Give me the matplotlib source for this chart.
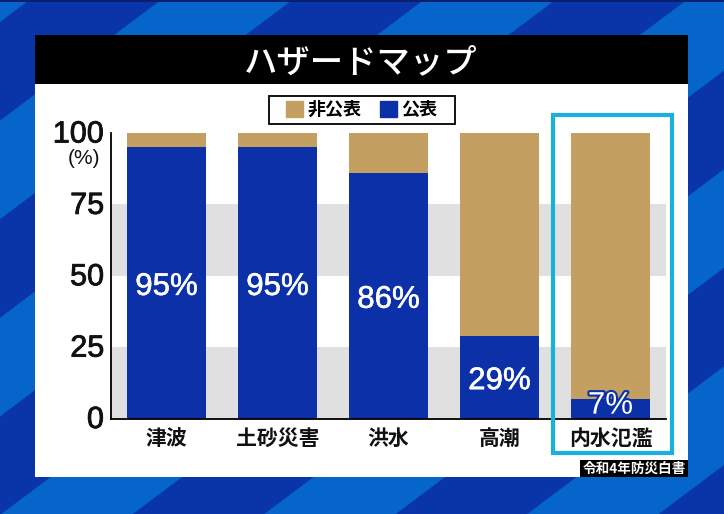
import numpy as np
import matplotlib
matplotlib.use("Agg")
import matplotlib.pyplot as plt
import matplotlib.patheffects as pe
from matplotlib.patches import Patch, Rectangle, Polygon
from matplotlib.transforms import ScaledTranslation

plt.rcParams['font.family'] = ['Noto Sans CJK JP', 'DejaVu Sans']

categories = ["津波", "土砂災害", "洪水", "高潮", "内水氾濫"]
public = [95, 95, 86, 29, 7]
private = [5, 5, 14, 71, 93]
yticks = [0, 25, 50, 75, 100]
gray_bands = [(0, 25), (50, 75)]

BLUE = "#0b30a8"
TAN = "#c49f62"
LIGHT = "#0565cb"
DARK = "#0a35a8"
W, H = 724, 514

fig = plt.figure(figsize=(W / 100, H / 100), dpi=100)

# background layer in pixel coords
bg = fig.add_axes([0, 0, 1, 1], zorder=0)
bg.set_xlim(0, W)
bg.set_ylim(H, 0)
bg.axis("off")
bg.add_patch(Rectangle((0, 0), W, H, color=DARK, lw=0))

# diagonal stripes, y + 0.75x = c
s = 0.75
edges = 22 + 98.6 * np.arange(-1, 12)
for c1, c2 in zip(edges[::2], edges[1::2]):
    bg.add_patch(Polygon([(0, c1), (0, c2), (W, c2 - s * W), (W, c1 - s * W)], color=LIGHT, lw=0))
bg.add_patch(Rectangle((0, 0), W, 2, color="#0a1f70", lw=0))

# panel + header
bg.add_patch(Rectangle((35, 35), 653, 442, color="white", lw=0))
bg.add_patch(Rectangle((35, 35), 653, 49, color="black", lw=0))
bg.text(361, 63, "ハザードマップ", color="white", fontsize=24, fontweight="medium", ha="center", va="center")

# source tag
bg.add_patch(Rectangle((580, 460), 108, 17, color="black", lw=0))
bg.text(634, 468.5, "令和4年防災白書", color="white", fontsize=9.8, fontweight="bold", ha="center", va="center")

# legend frame is wider than the legend's own padding
bg.add_patch(Rectangle((268.5, 95.5), 186, 28, facecolor="white", edgecolor="black", lw=1.3))

# chart
left, right, top, bottom = 111, 666, 133, 418.5
ax = fig.add_axes([left / W, 1 - bottom / H, (right - left) / W, (bottom - top) / H], zorder=1)
ax.patch.set_alpha(0)
x = np.arange(len(categories))

for lo, hi in gray_bands:
    ax.axhspan(lo, hi, color="#e0e0e0", lw=0, zorder=0)

ax.bar(x, public, width=0.72, color=BLUE, zorder=2, label="公表")
ax.bar(x, private, width=0.72, bottom=public, color=TAN, zorder=2, label="非公表")

ax.set_xlim(-0.5, 4.5)
ax.set_ylim(0, 100)
ax.set_xticks(x)
ax.set_xticklabels(categories, fontsize=15, fontweight="bold", color="#111111")
ax.set_yticks(yticks)
ax.set_yticklabels(yticks, fontsize=22, family="Liberation Sans", color="#111111")
ax.tick_params(length=0)
ax.tick_params(axis="x", pad=7)
ax.tick_params(axis="y", pad=5)
up = ScaledTranslation(0, 2 / 100, fig.dpi_scale_trans)
for lab in ax.get_yticklabels():
    lab.set_path_effects([pe.withStroke(linewidth=0.6, foreground="#111111")])
    lab.set_transform(lab.get_transform() + up)
ax.spines["top"].set_visible(False)
ax.spines["right"].set_visible(False)
ax.spines["left"].set_linewidth(1.3)
ax.spines["bottom"].set_linewidth(1.3)

for i, v in enumerate(public):
    t = ax.annotate(f"{v}%", (i, max(v / 2, 5.9)), xytext=(0, -2.9), textcoords="offset points",
                    color="white", fontsize=22.5, family="Liberation Sans",
                    ha="center", va="center", zorder=3)
    if v < 10:
        t.set_path_effects([pe.withStroke(linewidth=3, foreground=BLUE)])
    else:
        t.set_path_effects([pe.withStroke(linewidth=0.4, foreground="white")])

bg.text(84, 159, "(%)", fontsize=15, family="Liberation Sans", color="#111111", ha="center", va="center")

handles = [Patch(color=TAN, label="非公表"), Patch(color=BLUE, label="公表")]
leg = ax.legend(handles=handles, ncols=2, loc="center", bbox_to_anchor=((361.5 - left) / (right - left), (bottom - 109.5) / (bottom - top)),
                frameon=False, prop={"size": 13, "weight": "bold"}, handlelength=0.95, handleheight=0.95,
                handletextpad=0.25, columnspacing=1.0, borderpad=0.3, borderaxespad=0)
leg.set_zorder(5)

# highlight box around the last category
ax.add_patch(Rectangle((553, 115), 119, 338, transform=bg.transData, fill=False,
                       edgecolor="#1ab0dc", lw=3, clip_on=False, zorder=6))

fig.savefig("out.png", dpi=100)
